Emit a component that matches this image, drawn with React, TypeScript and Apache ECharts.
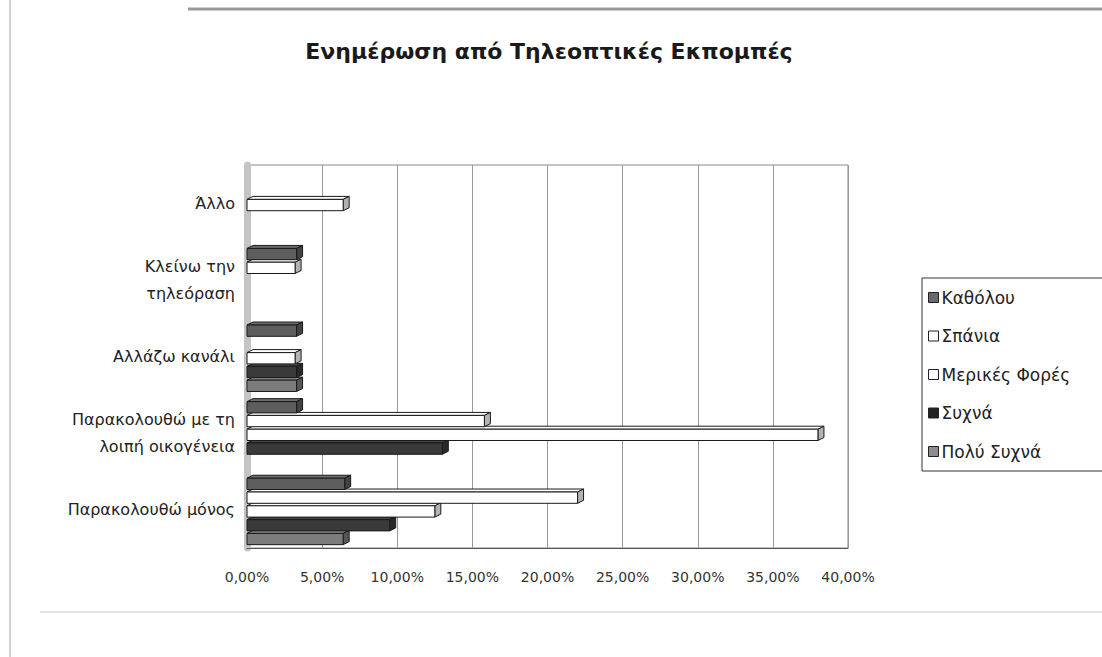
import React, { useEffect, useRef } from "react";
import * as echarts from "echarts";

const title = "Ενημέρωση από Τηλεοπτικές Εκπομπές";
const categories = [
  "Παρακολουθώ μόνος",
  "Παρακολουθώ με τη\nλοιπή οικογένεια",
  "Αλλάζω κανάλι",
  "Κλείνω την\nτηλεόραση",
  "Άλλο",
];
const seriesNames = ["Καθόλου", "Σπάνια", "Μερικές Φορές", "Συχνά", "Πολύ Συχνά"];
// values in percent, per category (same order as categories)
const katholou = [6.5, 3.3, 3.3, 3.3, 0];
const spania = [22.0, 15.8, 0, 3.2, 0];
const merikesFores = [12.5, 38.0, 3.2, 0, 6.4];
const sychna = [9.5, 13.0, 3.3, 0, 0];
const polySychna = [6.4, 0, 3.3, 0, 0];
const seriesValues = [katholou, spania, merikesFores, sychna, polySychna];
const seriesColors = ["#5e5e5e", "#ffffff", "#ffffff", "#3a3a3a", "#7c7c7c"];
const legendColors = ["#6a6a6a", "#ffffff", "#ffffff", "#222222", "#8c8c8c"];
const xTicksMax = 40;
const xTickStep = 5;

function shade(hex: string, f: number) {
  const n = parseInt(hex.slice(1), 16);
  const r = Math.min(255, Math.round(((n >> 16) & 255) * f));
  const g = Math.min(255, Math.round(((n >> 8) & 255) * f));
  const b = Math.min(255, Math.round((n & 255) * f));
  return `rgb(${r},${g},${b})`;
}

export default function App() {
  const ref = useRef<HTMLDivElement>(null);
  useEffect(() => {
    if (!ref.current) return;
    const chart = echarts.init(ref.current, undefined, { renderer: "svg" });
    const DX = 6;
    const DY = 3;
    const makeSeries = (i: number) => ({
      type: "custom",
      name: seriesNames[i],
      itemStyle: { color: seriesColors[i], borderColor: "#222", borderWidth: 1 },
      data: seriesValues[i].map((v, c) => [v, c]),
      encode: { x: 0, y: 1 },
      z: 10 - i,
      renderItem: (params: any, api: any) => {
        const v = api.value(0);
        if (!v) return null;
        const cat = api.value(1);
        const p0 = api.coord([0, cat]);
        const p1 = api.coord([v, cat]);
        const band = api.size([0, 1])[1];
        const groupH = band * 0.9;
        const slotH = groupH / 5;
        const yTop = p0[1] - groupH / 2 + i * slotH + DY;
        const h = slotH - DY + 0.5;
        const x0 = p0[0];
        const x1 = p1[0];
        const base = seriesColors[i];
        const stroke = "#1a1a1a";
        return {
          type: "group",
          children: [
            {
              type: "polygon",
              shape: { points: [[x0, yTop], [x0 + DX, yTop - DY], [x1 + DX, yTop - DY], [x1, yTop]] },
              style: { fill: shade(base, 1.15), stroke, lineWidth: 1 },
            },
            {
              type: "polygon",
              shape: { points: [[x1, yTop], [x1 + DX, yTop - DY], [x1 + DX, yTop + h - DY], [x1, yTop + h]] },
              style: { fill: shade(base, 0.7), stroke, lineWidth: 1 },
            },
            {
              type: "rect",
              shape: { x: x0, y: yTop, width: x1 - x0, height: h },
              style: { fill: base, stroke, lineWidth: 1 },
            },
          ],
        };
      },
    });
    const series = [4, 3, 2, 1, 0].map(makeSeries);
    chart.setOption({
      animation: false,
      backgroundColor: "#ffffff",
      title: {
        text: title,
        left: 544,
        textAlign: "center",
        top: 35,
        textStyle: { fontFamily: "DejaVu Sans", fontWeight: "bold", fontSize: 22, color: "#1a1a1a" },
      },
      legend: {
        orient: "vertical",
        left: 922,
        top: 278,
        padding: [11, 52, 11, 6],
        itemGap: 21.5,
        itemWidth: 10,
        itemHeight: 10,
        icon: "rect",
        borderColor: "#333",
        borderWidth: 1,
        textStyle: { fontFamily: "DejaVu Sans", fontSize: 17, color: "#222", padding: [0, 0, 0, -2] },
        data: seriesNames.map((n, i) => ({
          name: n,
          itemStyle: { color: legendColors[i], borderColor: "#222", borderWidth: 1 },
        })),
      },
      grid: {
        left: 247,
        right: 254,
        top: 165,
        bottom: 109,
        show: true,
        borderColor: "#888",
        borderWidth: 1,
        backgroundColor: "transparent",
      },
      xAxis: {
        type: "value",
        min: 0,
        max: xTicksMax,
        interval: xTickStep,
        axisLine: { show: true, lineStyle: { color: "#555", width: 1 } },
        axisTick: { show: false },
        splitLine: { show: true, lineStyle: { color: "#999", width: 1 } },
        axisLabel: {
          margin: 22,
          fontFamily: "DejaVu Sans",
          fontSize: 14,
          color: "#333",
          formatter: (v: number) => v.toFixed(2).replace(".", ",") + "%",
        },
      },
      yAxis: {
        type: "category",
        data: categories,
        axisLine: { show: true, lineStyle: { color: "#c4c4c4", width: 7 } },
        axisTick: { show: false },
        axisLabel: {
          margin: 12,
          fontFamily: "DejaVu Sans",
          fontSize: 16,
          lineHeight: 27,
          color: "#222",
          align: "right",
        },
      },
      graphic: [
        { type: "line", shape: { x1: 188, y1: 9, x2: 1102, y2: 9 }, style: { stroke: "#9a9a9a", lineWidth: 3 } },
        { type: "line", shape: { x1: 10, y1: 0, x2: 10, y2: 657 }, style: { stroke: "#d0d0d0", lineWidth: 2 } },
        { type: "line", shape: { x1: 40, y1: 612, x2: 1102, y2: 612 }, style: { stroke: "#e2e2e2", lineWidth: 2 } },
      ],
      series,
    });
    return () => chart.dispose();
  }, []);
  return (
    <div
      ref={ref}
      style={{ position: "fixed", left: 0, top: 0, width: 1102, height: 657, background: "#fff" }}
    />
  );
}
